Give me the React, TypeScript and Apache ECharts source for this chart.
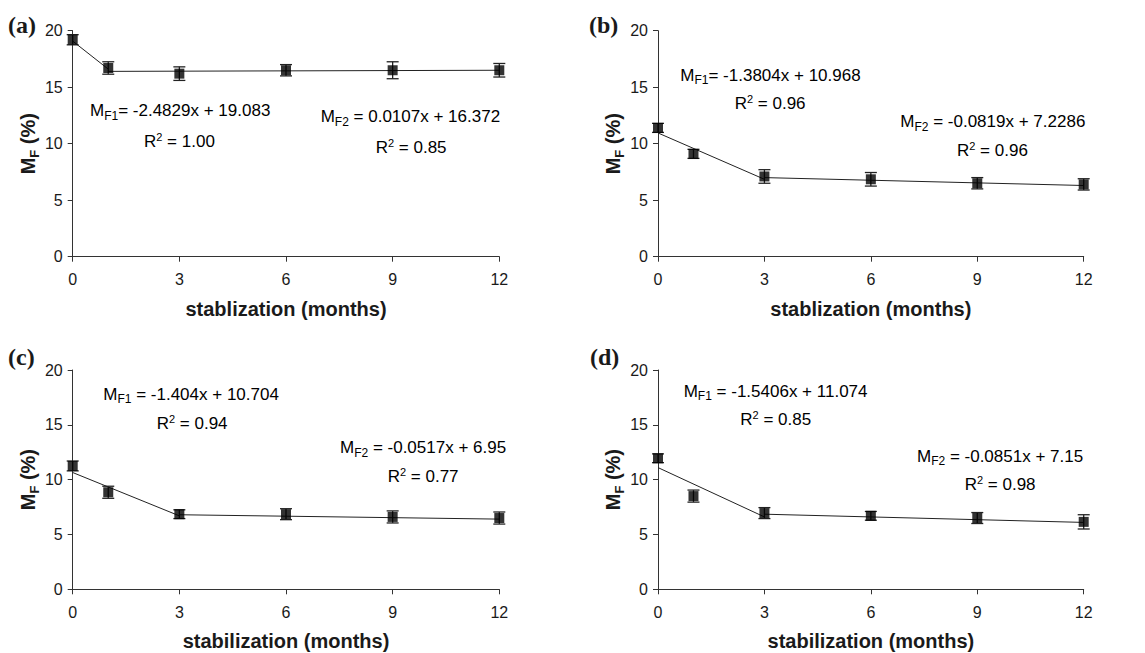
import React, { useEffect, useRef } from "react";
import * as echarts from "echarts";

// ---- data ----
const months = [0, 1, 3, 6, 9, 12];

const mfA = [19.2, 16.7, 16.2, 16.5, 16.5, 16.5];
const errA = [0.45, 0.55, 0.6, 0.5, 0.75, 0.6];
const mfB = [11.4, 9.1, 7.1, 6.85, 6.5, 6.4];
const errB = [0.4, 0.4, 0.6, 0.6, 0.5, 0.5];
const mfC = [11.25, 8.85, 6.85, 6.85, 6.6, 6.5];
const errC = [0.45, 0.55, 0.4, 0.5, 0.55, 0.55];
const mfD = [11.95, 8.5, 6.95, 6.7, 6.5, 6.15];
const errD = [0.4, 0.55, 0.5, 0.4, 0.5, 0.65];

// fitted trend-line end points [x, y]
const fitA1 = [[0, 19.08], [1, 16.6]];
const fitA2 = [[1, 16.4], [12, 16.5]];
const fitB1 = [[0, 10.95], [3, 6.85]];
const fitB2 = [[3, 7.0], [12, 6.3]];
const fitC1 = [[0, 10.65], [3, 6.7]];
const fitC2 = [[3, 6.8], [12, 6.4]];
const fitD1 = [[0, 11.1], [3, 6.6]];
const fitD2 = [[3, 6.85], [12, 6.1]];

const panelLabels = ["(a)", "(b)", "(c)", "(d)"];
const xTitles = [
  "stablization (months)",
  "stablization (months)",
  "stabilization (months)",
  "stabilization (months)",
];
const eq1Text = [
  "= -2.4829x + 19.083",
  "= -1.3804x + 10.968",
  " = -1.404x + 10.704",
  " = -1.5406x + 11.074",
];
const eq2Text = [
  " = 0.0107x + 16.372",
  " = -0.0819x + 7.2286",
  " = -0.0517x + 6.95",
  " = -0.0851x + 7.15",
];
const r2First = ["1.00", "0.96", "0.94", "0.85"];
const r2Second = ["0.85", "0.96", "0.77", "0.98"];

const allMf = [mfA, mfB, mfC, mfD];
const allErr = [errA, errB, errC, errD];
const allFit1 = [fitA1, fitB1, fitC1, fitD1];
const allFit2 = [fitA2, fitB2, fitC2, fitD2];

// ---- layout ----
const grids = [
  { left: 72.7, top: 30.7, width: 426.6, height: 226 },
  { left: 658, top: 30.7, width: 425.7, height: 226 },
  { left: 72.7, top: 370, width: 426.6, height: 219.3 },
  { left: 658, top: 370, width: 425.7, height: 219.3 },
];
const labelPos = [
  [8, 25],
  [589, 24.5],
  [8, 357],
  [590, 357],
];
// [x, yCenter] of: eq1, r2 first, eq2, r2 second
const annPos = [
  [[90, 110.5], [144, 141], [320.7, 116.7], [375.7, 147]],
  [[680.3, 75], [734.7, 103.3], [900.3, 121.7], [957, 150]],
  [[103.3, 394.3], [156.7, 423.5], [340, 447.7], [387.7, 476]],
  [[683.7, 391], [740.3, 419.3], [917, 456], [964.7, 484.3]],
];

const FONT = "Liberation Sans, Arial, sans-serif";
const TXT = "#1a1a1a";
const AXIS = "#333";

const eqRich = {
  m: { fontSize: 17, fontFamily: FONT, color: TXT, lineHeight: 22 },
  s: { fontSize: 12, fontFamily: FONT, color: TXT, lineHeight: 22, verticalAlign: "bottom" },
};
const r2Rich = {
  m: { fontSize: 17, fontFamily: FONT, color: TXT, lineHeight: 20 },
  p: { fontSize: 11, fontFamily: FONT, color: TXT, lineHeight: 20, verticalAlign: "top" },
};

function textEl(x: number, y: number, text: string, rich: any) {
  return {
    type: "text",
    x,
    y,
    silent: true,
    style: { text, rich, align: "left", verticalAlign: "middle" },
  };
}

export default function App() {
  const ref = useRef<HTMLDivElement>(null);
  useEffect(() => {
    if (!ref.current) return;
    const chart = echarts.init(ref.current, null, { renderer: "svg" });

    const xAxis: any[] = [];
    const yAxis: any[] = [];
    const series: any[] = [];
    const graphic: any[] = [];

    for (let i = 0; i < 4; i++) {
      xAxis.push({
        gridIndex: i,
        type: "value",
        min: 0,
        max: 12,
        interval: 3,
        splitLine: { show: false },
        axisLine: { lineStyle: { color: AXIS, width: 1 } },
        axisTick: { show: true, length: 5, lineStyle: { color: AXIS } },
        axisLabel: { fontSize: 16, fontFamily: FONT, color: TXT, margin: 15 },
        name: xTitles[i],
        nameLocation: "middle",
        nameGap: 42,
        nameTextStyle: { fontSize: 20, fontWeight: "bold", fontFamily: FONT, color: TXT },
      });
      yAxis.push({
        gridIndex: i,
        type: "value",
        min: 0,
        max: 20,
        interval: 5,
        splitLine: { show: false },
        axisLine: { show: true, lineStyle: { color: AXIS, width: 1 } },
        axisTick: { show: true, length: 5, lineStyle: { color: AXIS } },
        axisLabel: { fontSize: 16, fontFamily: FONT, color: TXT, margin: 10 },
        name: "{m|M}{s|F}{m| (%)}",
        nameLocation: "middle",
        nameGap: 30,
        nameTextStyle: {
          rich: {
            m: { fontSize: 20, fontWeight: "bold", fontFamily: FONT, color: TXT, lineHeight: 26 },
            s: { fontSize: 13, fontWeight: "bold", fontFamily: FONT, color: TXT, lineHeight: 26, verticalAlign: "bottom" },
          },
        },
      });

      const pts = months.map((m, k) => [m, allMf[i][k], allErr[i][k]]);

      series.push({
        type: "line",
        xAxisIndex: i,
        yAxisIndex: i,
        data: allFit1[i],
        symbol: "none",
        lineStyle: { color: "#222", width: 1 },
        z: 2,
      });
      series.push({
        type: "line",
        xAxisIndex: i,
        yAxisIndex: i,
        data: allFit2[i],
        symbol: "none",
        lineStyle: { color: "#222", width: 1 },
        z: 2,
      });
      series.push({
        type: "custom",
        xAxisIndex: i,
        yAxisIndex: i,
        data: pts,
        z: 3,
        renderItem: (params: any, api: any) => {
          const x = api.value(0);
          const y = api.value(1);
          const e = api.value(2);
          const top = api.coord([x, y + e]);
          const bot = api.coord([x, y - e]);
          const hw = 6;
          const st = { stroke: "#222", lineWidth: 1.3 };
          return {
            type: "group",
            children: [
              { type: "line", shape: { x1: top[0], y1: top[1], x2: bot[0], y2: bot[1] }, style: st },
              { type: "line", shape: { x1: top[0] - hw, y1: top[1], x2: top[0] + hw, y2: top[1] }, style: st },
              { type: "line", shape: { x1: bot[0] - hw, y1: bot[1], x2: bot[0] + hw, y2: bot[1] }, style: st },
            ],
          };
        },
      });
      series.push({
        type: "scatter",
        xAxisIndex: i,
        yAxisIndex: i,
        data: pts.map((p) => [p[0], p[1]]),
        symbol: "rect",
        symbolSize: 10,
        itemStyle: { color: "#000" },
        z: 4,
      });

      graphic.push({
        type: "text",
        x: labelPos[i][0],
        y: labelPos[i][1],
        silent: true,
        style: {
          text: panelLabels[i],
          fontFamily: "Liberation Serif, Times New Roman, serif",
          fontWeight: "bold",
          fontSize: 24,
          fill: TXT,
          align: "left",
          verticalAlign: "middle",
        },
      });
      const a = annPos[i];
      graphic.push(textEl(a[0][0], a[0][1], `{m|M}{s|F1}{m|${eq1Text[i]}}`, eqRich));
      graphic.push(textEl(a[1][0], a[1][1], `{m|R}{p|2}{m| = ${r2First[i]}}`, r2Rich));
      graphic.push(textEl(a[2][0], a[2][1], `{m|M}{s|F2}{m|${eq2Text[i]}}`, eqRich));
      graphic.push(textEl(a[3][0], a[3][1], `{m|R}{p|2}{m| = ${r2Second[i]}}`, r2Rich));
    }

    chart.setOption({
      animation: false,
      backgroundColor: "#fff",
      grid: grids.map((g) => ({ ...g, containLabel: false })),
      xAxis,
      yAxis,
      series,
      graphic,
    });
    return () => chart.dispose();
  }, []);

  return (
    <div
      ref={ref}
      style={{ position: "absolute", left: 0, top: 0, width: 1145, height: 653 }}
    />
  );
}
